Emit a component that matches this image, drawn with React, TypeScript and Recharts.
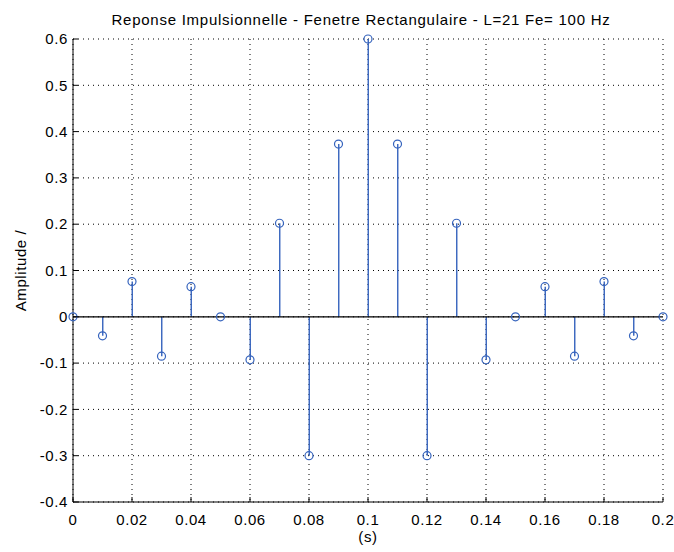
import React from 'react';
import {
  ComposedChart,
  Bar,
  Scatter,
  XAxis,
  YAxis,
  CartesianGrid,
  ReferenceLine,
} from 'recharts';

// time of each sample (s), Fe = 100 Hz, L = 21
const times = [
  0, 0.01, 0.02, 0.03, 0.04, 0.05, 0.06, 0.07, 0.08, 0.09, 0.1,
  0.11, 0.12, 0.13, 0.14, 0.15, 0.16, 0.17, 0.18, 0.19, 0.2,
];
const amplitudes = [
  0, -0.041, 0.076, -0.085, 0.065, 0, -0.093, 0.202, -0.3, 0.373, 0.6,
  0.373, -0.3, 0.202, -0.093, 0, 0.065, -0.085, 0.076, -0.041, 0,
];
const xTicks = [0, 0.02, 0.04, 0.06, 0.08, 0.1, 0.12, 0.14, 0.16, 0.18, 0.2];
const yTicks = [-0.4, -0.3, -0.2, -0.1, 0, 0.1, 0.2, 0.3, 0.4, 0.5, 0.6];

const title = 'Reponse Impulsionnelle - Fenetre Rectangulaire - L=21 Fe= 100 Hz';
const STEM = '#3563bd';
const FONT = '"Liberation Sans", Arial, Helvetica, sans-serif';
const FS = 15;
const LS = 0.6;
const X_MARGIN = 12;

const data = times.map((t, i) => ({ t, amp: amplitudes[i] }));

const Stem = (props: any) => {
  const { x, y, width, height } = props;
  if (!height) return null;
  const cx = x + width / 2;
  return <line x1={cx} x2={cx} y1={y} y2={y + height} stroke={STEM} strokeWidth={1.4} />;
};

const Marker = (props: any) => (
  <circle cx={props.cx} cy={props.cy} r={4} fill="none" stroke={STEM} strokeWidth={1.2} />
);

const YTick = (props: any) => {
  const { x, y, payload } = props;
  return (
    <g>
      <line x1={x + 5} x2={x + 10} y1={y} y2={y} stroke="#000" />
      <text x={x} y={y} dy="0.35em" textAnchor="end" fontSize={FS} fill="#000" fontFamily={FONT} letterSpacing={LS}>
        {String(payload.value)}
      </text>
    </g>
  );
};

const XTick = (props: any) => {
  const { x, y, payload } = props;
  return (
    <g>
      <line x1={x} x2={x} y1={y - X_MARGIN} y2={y - X_MARGIN - 5} stroke="#000" />
      <text x={x} y={y} dy="0.71em" textAnchor="middle" fontSize={FS} fill="#000" fontFamily={FONT} letterSpacing={LS}>
        {String(payload.value)}
      </text>
    </g>
  );
};

export default function App() {
  return (
    <div style={{ position: 'absolute', left: 0, top: 0, width: 674, height: 552, background: '#fff', fontFamily: FONT }}>
      <div
        style={{
          position: 'absolute',
          left: 36,
          width: 650,
          top: 11,
          textAlign: 'center',
          fontSize: FS,
          letterSpacing: 0.75,
          lineHeight: '18px',
          color: '#000',
        }}
      >
        {title}
      </div>
      <ComposedChart
        width={674}
        height={552}
        data={data}
        margin={{ top: 39, right: 11, bottom: 0, left: 0 }}
        style={{ fontFamily: FONT }}
      >
        <CartesianGrid stroke="#000" strokeDasharray="1 4" />
        <XAxis
          dataKey="t"
          type="number"
          domain={[0, 0.2]}
          ticks={xTicks}
          height={50}
          tickSize={0}
          tickMargin={X_MARGIN}
          axisLine={{ stroke: '#000' }}
          tick={<XTick />}
          label={{ value: '(s)', position: 'insideBottom', offset: 10, fontSize: FS, fill: '#000', letterSpacing: LS }}
        />
        <YAxis
          type="number"
          domain={[-0.4, 0.6]}
          ticks={yTicks}
          width={73}
          tickSize={0}
          tickMargin={5}
          axisLine={{ stroke: '#000' }}
          tick={<YTick />}
          label={{ value: 'Amplitude /', angle: -90, position: 'center', dx: -16, fontSize: FS, fill: '#000', letterSpacing: LS }}
        />
        <Bar dataKey="amp" barSize={2} shape={<Stem />} isAnimationActive={false} />
        <ReferenceLine y={0} stroke="#000" strokeWidth={1.2} />
        <Scatter dataKey="amp" shape={<Marker />} isAnimationActive={false} />
      </ComposedChart>
    </div>
  );
}
